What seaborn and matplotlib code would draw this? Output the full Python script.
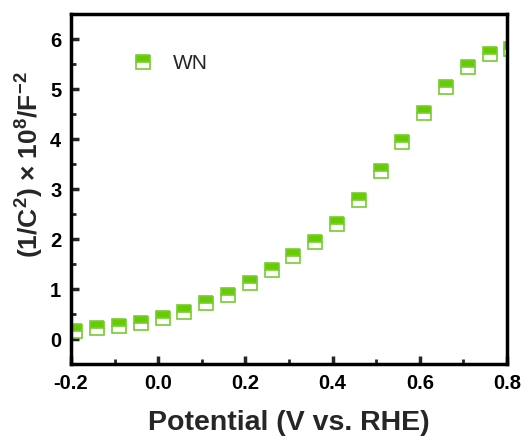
import matplotlib
matplotlib.use("Agg")
import matplotlib.pyplot as plt
import seaborn as sns
import pandas as pd
from matplotlib.ticker import MultipleLocator

# datos
potential = [-0.19, -0.14, -0.09, -0.04, 0.01, 0.06, 0.11, 0.16, 0.21, 0.26, 0.31,
             0.36, 0.41, 0.46, 0.51, 0.56, 0.61, 0.66, 0.71, 0.76, 0.81]
inv_c2 = [0.17, 0.22, 0.26, 0.33, 0.43, 0.54, 0.72, 0.89, 1.13, 1.39, 1.67,
          1.95, 2.31, 2.79, 3.37, 3.94, 4.53, 5.05, 5.44, 5.70, 5.80]
serie = "WN"

data = pd.DataFrame({"x": potential, "y": inv_c2})

sns.set_style("ticks")
plt.rcParams["font.family"] = ["Liberation Sans", "DejaVu Sans"]
plt.rcParams["mathtext.fontset"] = "custom"
plt.rcParams["mathtext.rm"] = "Liberation Sans"
plt.rcParams["mathtext.bf"] = "Liberation Sans:bold"

fig = plt.figure(figsize=(5.26, 4.43), dpi=100)
ax = fig.add_axes([0.135, 0.178, 0.829, 0.79])

verde = "#66cc00"
sns.lineplot(data=data, x="x", y="y", ax=ax, marker="s", linestyle="",
             markersize=9.5, fillstyle="top", markerfacecoloralt="white",
             color=verde, markeredgecolor="#77cc33", markeredgewidth=1.2,
             label=serie)

ax.set_xlim(-0.2, 0.8)
ax.set_ylim(-0.5, 6.5)
ax.xaxis.set_major_locator(MultipleLocator(0.2))
ax.xaxis.set_minor_locator(MultipleLocator(0.1))
ax.yaxis.set_major_locator(MultipleLocator(1))
ax.yaxis.set_minor_locator(MultipleLocator(0.5))
ax.xaxis.set_major_formatter(matplotlib.ticker.FormatStrFormatter("%.1f"))

for s in ax.spines.values():
    s.set_linewidth(2.5)
    s.set_color("black")
ax.tick_params(which="major", direction="in", length=6, width=2.5,
               labelsize=14.5, pad=7, labelcolor="black")
ax.tick_params(which="minor", direction="in", length=3.5, width=2)
ax.tick_params(top=False, right=False, which="both")
for lab in ax.get_xticklabels() + ax.get_yticklabels():
    lab.set_fontweight("bold")

ax.set_xlabel("Potential (V vs. RHE)", fontsize=20.5, fontweight="bold", labelpad=12)
ax.set_ylabel(r"(1/C$^\mathbf{2}$) × 10$^\mathbf{8}$/F$^\mathbf{-2}$", fontsize=19,
              fontweight="bold")
ax.yaxis.set_label_coords(-0.06, 0.57)

ax.legend(loc="upper left", bbox_to_anchor=(0.075, 0.94), frameon=False,
          fontsize=15, handletextpad=0.4, markerscale=1.0)

fig.savefig("out.png", dpi=100)
